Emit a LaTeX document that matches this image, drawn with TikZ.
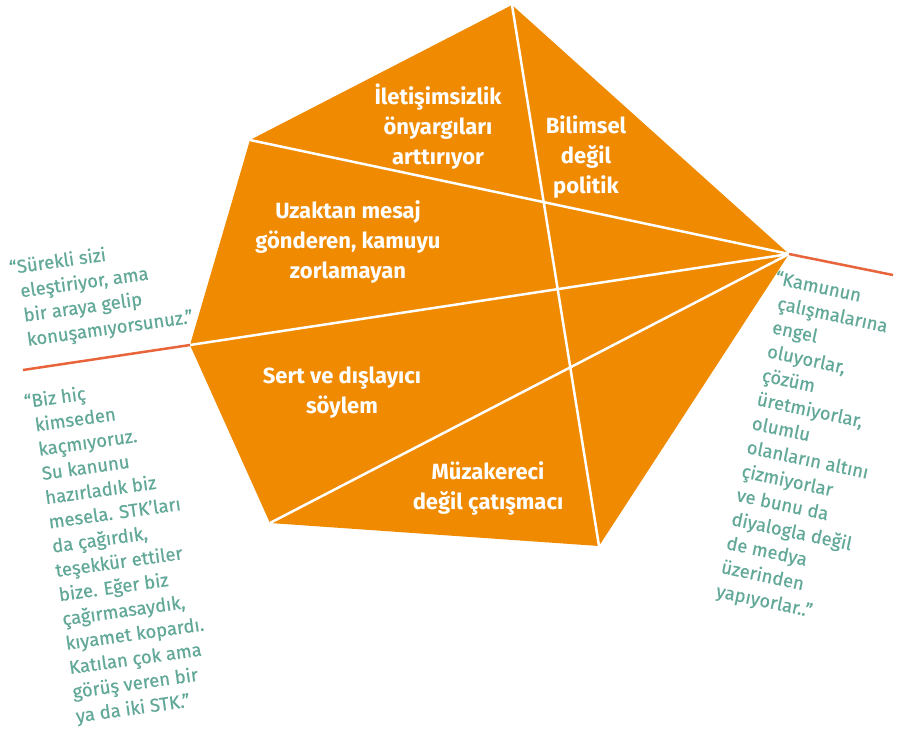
\documentclass[tikz,border=0pt]{standalone}
\usepackage{fontspec}
\setmainfont{Fira Sans}
\newfontfamily\quotefont{Fira Sans}[FakeBold=0.5]
\definecolor{pentorange}{HTML}{F08A00}
\definecolor{linered}{HTML}{E8643A}
\definecolor{quoteteal}{HTML}{62A898}
\begin{document}
\begin{tikzpicture}[x=1pt, y=1pt, every node/.style={inner sep=0pt},
    slicetext/.style={text=white, font=\fontsize{22}{30}\selectfont\bfseries, align=center},
    quotetext/.style={text=quoteteal, font=\quotefont\fontsize{18.5}{24.5}\selectfont, align=left},
    cut/.style={white, line width=2.5pt},
    edge/.style={linered, line width=2.5pt}]
  \useasboundingbox (0,0) rectangle (904,-737);
  % pentagon corners
  \coordinate (p0) at (512,-5); \coordinate (p1) at (250,-140); \coordinate (p2) at (190,-345);
  \coordinate (p3) at (270,-523); \coordinate (p4) at (599,-546); \coordinate (p5) at (789,-254);
  \fill[pentorange] (p0) -- (p1) -- (p2) -- (p3) -- (p4) -- (p5) -- cycle;
  \draw[cut] (p0) -- (p4);
  \foreach \i in {1,2,3} \draw[cut] (p\i) -- (p5);
  \coordinate (e2) at (23,-370); \coordinate (e5) at (893,-275);
  \draw[edge] (p2) -- (e2);
  \draw[edge] (p5) -- (e5);
  % slice labels
  \node[slicetext] (s1) at (438,-127) {İletişimsizlik\\önyargıları\\arttırıyor};
  \node[slicetext] (s2) at (586,-157) {Bilimsel\\değil\\politik};
  \node[slicetext] (s3) at (348,-242) {Uzaktan mesaj\\gönderen, kamuyu\\zorlamayan};
  \node[slicetext] (s4) at (342,-393) {Sert ve dışlayıcı\\söylem};
  \node[slicetext] (s5) at (488,-488) {Müzakereci\\değil çatışmacı};
  % quotes
  \node[quotetext, rotate=8] (q1) at (105,-293) {\llap{“}Sürekli sizi\\eleştiriyor, ama\\bir araya gelip\\konuşamıyorsunuz.”};
  \node[quotetext, rotate=8] (q2) at (123,-550) {\llap{“}Biz hiç\\kimseden\\kaçmıyoruz.\\Su kanunu\\hazırladık biz\\mesela. STK’ları\\da çağırdık,\\teşekkür ettiler\\bize. Eğer biz\\çağırmasaydık,\\kıyamet kopardı.\\Katılan çok ama\\görüş veren bir\\ya da iki STK.”};
  \node[quotetext, rotate=-12] (q3) at (810,-449) {\llap{“}Kamunun\\çalışmalarına\\engel\\oluyorlar,\\çözüm\\üretmiyorlar,\\olumlu\\olanların altını\\çizmiyorlar\\ve bunu da\\diyalogla değil\\de medya\\üzerinden\\yapıyorlar..”};
\end{tikzpicture}
\end{document}
